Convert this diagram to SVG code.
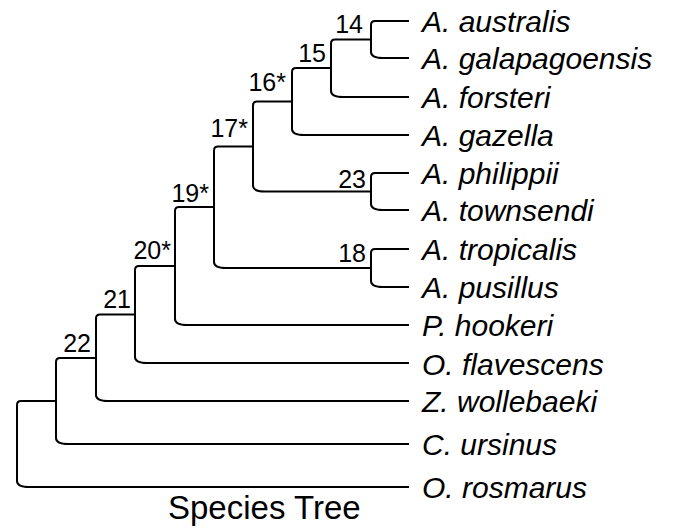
<svg xmlns="http://www.w3.org/2000/svg" width="674" height="528" viewBox="0 0 674 528">
<style>
.br{fill:none;stroke:#000;stroke-width:2;stroke-linejoin:round}
.sp{font-family:"Liberation Sans",Arial,sans-serif;font-style:italic;font-size:30px;fill:#000}
.nl{font-family:"Liberation Sans",Arial,sans-serif;font-size:25px;fill:#000;text-anchor:end}
.ti{font-family:"Liberation Sans",Arial,sans-serif;font-size:33px;fill:#000}
</style>
<rect width="674" height="528" fill="#fff"/>
<g id="connectors">
<path class="br" d="M409,21 H375 Q371,21 371,25 V52 Q371,58 383,58 H409"/>
<path class="br" d="M371,39.5 H335 Q331,39.5 331,43.5 V91 Q331,97 343,97 H409"/>
<path class="br" d="M331,68 H296 Q292,68 292,72 V129 Q292,135 304,135 H409"/>
<path class="br" d="M292,101.5 H257 Q253,101.5 253,105.5 V185.5 Q253,191.5 265,191.5 H371"/>
<path class="br" d="M409,173 H375 Q371,173 371,177 V204 Q371,210 383,210 H409"/>
<path class="br" d="M409,249 H375 Q371,249 371,253 V281 Q371,287 383,287 H409"/>
<path class="br" d="M253,146.5 H218 Q214,146.5 214,150.5 V262 Q214,268 226,268 H371"/>
<path class="br" d="M214,207 H179 Q175,207 175,211 V319 Q175,325 187,325 H409"/>
<path class="br" d="M175,266 H139 Q135,266 135,270 V357 Q135,363 147,363 H409"/>
<path class="br" d="M135,314.5 H100 Q96,314.5 96,318.5 V395 Q96,401 108,401 H409"/>
<path class="br" d="M96,358 H60 Q56,358 56,362 V438 Q56,444 68,444 H409"/>
<path class="br" d="M56,401 H21 Q17,401 17,405 V481 Q17,487 29,487 H409"/>
</g>
<g id="leaf-australis"><text class="sp" x="422" y="32">A. australis</text></g>
<g id="leaf-galapagoensis"><text class="sp" x="422" y="69">A. galapagoensis</text></g>
<g id="leaf-forsteri"><text class="sp" x="422" y="108">A. forsteri</text></g>
<g id="leaf-gazella"><text class="sp" x="422" y="146">A. gazella</text></g>
<g id="leaf-philippii"><text class="sp" x="422" y="184">A. philippii</text></g>
<g id="leaf-townsendi"><text class="sp" x="422" y="221">A. townsendi</text></g>
<g id="leaf-tropicalis"><text class="sp" x="422" y="260">A. tropicalis</text></g>
<g id="leaf-pusillus"><text class="sp" x="422" y="298">A. pusillus</text></g>
<g id="leaf-hookeri"><text class="sp" x="422" y="336">P. hookeri</text></g>
<g id="leaf-flavescens"><text class="sp" x="422" y="375">O. flavescens</text></g>
<g id="leaf-wollebaeki"><text class="sp" x="422" y="412">Z. wollebaeki</text></g>
<g id="leaf-ursinus"><text class="sp" x="422" y="455">C. ursinus</text></g>
<g id="leaf-rosmarus"><text class="sp" x="422" y="498">O. rosmarus</text></g>
<g id="node-14"><text class="nl" x="363" y="33">14</text></g>
<g id="node-15"><text class="nl" x="326" y="62">15</text></g>
<g id="node-16"><text class="nl" x="286" y="91">16*</text></g>
<g id="node-17"><text class="nl" x="248" y="137">17*</text></g>
<g id="node-23"><text class="nl" x="366" y="188">23</text></g>
<g id="node-18"><text class="nl" x="366" y="262">18</text></g>
<g id="node-19"><text class="nl" x="209" y="202">19*</text></g>
<g id="node-20"><text class="nl" x="171" y="259">20*</text></g>
<g id="node-21"><text class="nl" x="131" y="308">21</text></g>
<g id="node-22"><text class="nl" x="91" y="352">22</text></g>
<text class="ti" x="168" y="519">Species Tree</text>
</svg>
